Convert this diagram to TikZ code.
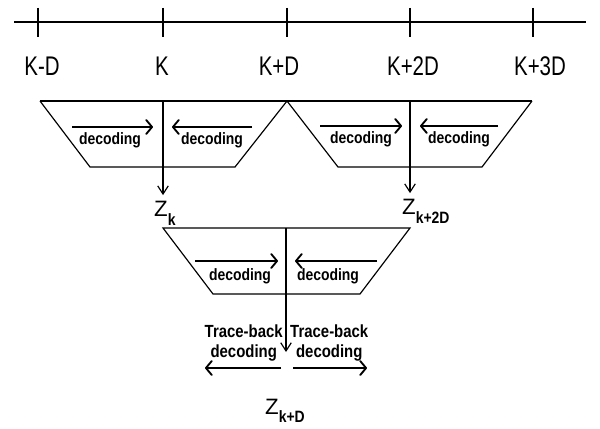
\documentclass[tikz,border=0pt]{standalone}
\usepackage{fontspec}
\setmainfont{Liberation Sans}
\newfontfamily\axisfont[FakeStretch=0.76]{Liberation Sans}
\newfontfamily\decfont[FakeStretch=0.85]{Liberation Sans Bold}
\usetikzlibrary{arrows.meta}

\begin{document}
\begin{tikzpicture}[x=0.03cm, y=-0.03cm,
  outline/.style={line width=1pt},
  decarrow/.style={line width=1.6pt, -{Straight Barb[length=5pt,width=12pt,round]}},
  downarrow/.style={line width=1pt, -{Straight Barb[length=7pt,width=9pt]}},
  declabel/.style={font=\decfont\fontsize{14}{16}\selectfont, inner sep=0pt},
  tblabel/.style={font=\decfont\fontsize{15}{17}\selectfont, inner sep=0pt, align=center},
  ticklabel/.style={font=\axisfont\fontsize{23}{26}\selectfont, inner sep=0pt},
  zlabel/.style={font=\fontsize{19}{22}\selectfont, inner sep=0pt, anchor=north west}]

  \useasboundingbox (0,0) rectangle (600,428);

  % === Time axis ===
  \draw[outline] (14,22) -- (586,22);
  \foreach \x/\xl/\lab in {38/42/K-D, 163/162/K, 287/279/K+D, 410/413/K+2D, 533/540/K+3D}{
    \draw[outline] (\x,8) -- (\x,37);
    \node[ticklabel] (tick\x) at (\xl,66) {\lab};
  }

  % === First stage: two decoding windows ===
  \draw[outline] (40,101) -- (532,101);
  \draw[outline] (40,101) -- (90,167) -- (235,167) -- (287,101)
    -- (338,167) -- (482,167) -- (532,101);
  \coordinate (s1) at (163,101);
  \coordinate (s2) at (410,101);

  % === Second stage window ===
  \draw[outline] (163,228) -- (410,228) -- (360,294) -- (213,294) -- cycle;
  \coordinate (s3) at (286,228);
  \coordinate (tbend) at (286,352);

  % === decoding arrows and labels ===
  \foreach \n/\tx/\ty/\ax/\bx/\ay in {1/110/140/72/153/127, 2/212/140/252/172/127,
      3/361/139/320/402/126, 4/459/139/498/420/126,
      5/240/276/195/278/261, 6/328/276/377/295/261}{
    \node[declabel] (dec\n) at (\tx,\ty) {decoding};
    \draw[decarrow] (\ax,\ay) -- (\bx,\ay);
  }

  % === Outputs of the windows ===
  \node[zlabel] (zk) at (154,201)
    {Z\raisebox{-8pt}{\decfont\fontsize{14}{16}\selectfont k}};
  \node[zlabel] (zk2d) at (402,199)
    {Z\raisebox{-8pt}{\decfont\fontsize{14}{16}\selectfont k+2D}};
  \node[zlabel] (zkd) at (265,399)
    {Z\raisebox{-7pt}{\decfont\fontsize{14}{16}\selectfont k+D}};

  \draw[downarrow, shorten >=5pt] (s1) -- (zk.north -| s1);
  \draw[downarrow, shorten >=5pt] (s2) -- (zk2d.north -| s2);

  % === Trace-back ===
  \draw[downarrow] (s3) -- (tbend);
  \node[tblabel, anchor=east] (tbl) at (283,343) {Trace-back\\decoding};
  \node[tblabel, anchor=west] (tbr) at (290,343) {Trace-back\\decoding};
  \coordinate (tbl0) at (281,368);
  \coordinate (tbl1) at (205,368);
  \coordinate (tbr0) at (293,368);
  \coordinate (tbr1) at (367,368);
  \draw[decarrow] (tbl0) -- (tbl1);
  \draw[decarrow] (tbr0) -- (tbr1);

\end{tikzpicture}
\end{document}
